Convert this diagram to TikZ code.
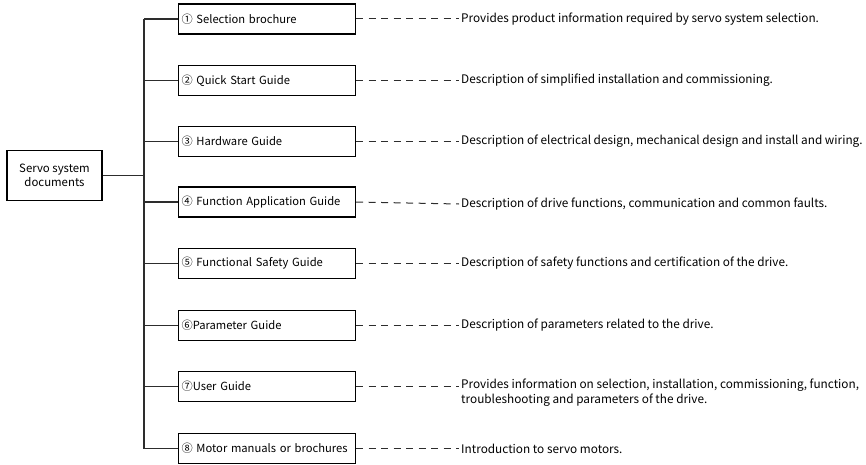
\documentclass[tikz,border=0pt]{standalone}
\usepackage{fontspec}
\setmainfont{Noto Sans CJK SC}
\begin{document}
\begin{tikzpicture}[x=1pt,y=-1pt,
  ln/.style={draw={rgb,255:red,45;green,45;blue,45}, line width=1.2pt},
  docbox/.style={draw=black, line width=1.1pt, minimum width=177pt, minimum height=30pt,
    anchor=west, inner xsep=3pt, text width=171pt, align=left, font=\fontsize{11.2}{14}\selectfont},
  rootbox/.style={draw=black, line width=1.1pt, minimum width=95pt, minimum height=50pt,
    align=center, font=\fontsize{11.4}{14.5}\selectfont},
  desc/.style={anchor=west, inner sep=2pt, align=left, font=\fontsize{11.8}{15}\selectfont},
  dashline/.style={draw={rgb,255:red,45;green,45;blue,45}, line width=1pt, dash pattern=on 7pt off 5.5pt}]
\useasboundingbox (0,0) rectangle (866,465);
% root node and vertical bus
\node[rootbox] (root) at (54.5,175.5) {Servo system\\documents};
\coordinate (busT) at (144,19);
\coordinate (busB) at (144,448.5);
\coordinate (busM) at (144,175.5);
\draw[ln] (busT) -- (busB);
\draw[ln] (root.east) -- (busM);
% document boxes
\foreach \i/\y/\t in {1/19/{① Selection brochure},
                      2/80.5/{② Quick Start Guide},
                      3/141.5/{③ Hardware Guide},
                      4/202/{④ Function Application Guide},
                      5/263.5/{⑤ Functional Safety Guide},
                      6/325.5/{⑥Parameter Guide},
                      7/386.5/{⑦User Guide},
                      8/448.5/{⑧ Motor manuals or brochures}}{
  \node[docbox] (d\i) at (178,\y) {\t};
  \coordinate (b\i) at (144,\y);
  \draw[ln] (b\i) -- (d\i.west);
}
% descriptions
\node[desc] (t1) at (459,19) {Provides product information required by servo system selection.};
\node[desc] (t2) at (459,80.5) {Description of simplified installation and commissioning.};
\node[desc] (t3) at (459,141.5) {Description of electrical design, mechanical design and install and wiring.};
\node[desc] (t4) at (459,204) {Description of drive functions, communication and common faults.};
\node[desc] (t5) at (459,263.5) {Description of safety functions and certification of the drive.};
\node[desc] (t6) at (459,325.5) {Description of parameters related to the drive.};
\node[desc] (t7) at (459,393) {Provides information on selection, installation, commissioning, function,\\troubleshooting and parameters of the drive.};
\coordinate (t7a) at (459,386.5);
\node[desc] (t8) at (459,448.5) {Introduction to servo motors.};
\foreach \i in {1,2,3,4,5,6,8}{
  \draw[dashline] (d\i.east) -- (t\i.west);
}
\draw[dashline] (d7.east) -- (t7a);
\end{tikzpicture}
\end{document}
